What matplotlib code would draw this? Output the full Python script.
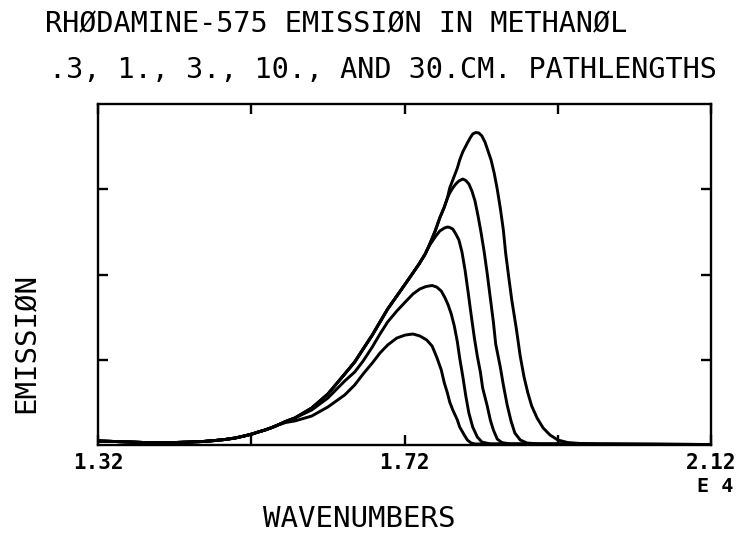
import matplotlib
matplotlib.use("Agg")
import matplotlib.pyplot as plt
from matplotlib.ticker import FixedLocator, NullFormatter

# wavenumber axis in units of 1E4 cm-1, emission in arbitrary units
# low-level part common to all five curves
base_x = [1.320, 1.342, 1.362, 1.381, 1.401, 1.420, 1.440, 1.457, 1.473,
          1.486, 1.499, 1.511, 1.521, 1.529, 1.538, 1.547, 1.555]
base_y = [0.047, 0.041, 0.035, 0.029, 0.029, 0.029, 0.035, 0.041, 0.053,
          0.065, 0.082, 0.106, 0.129, 0.152, 0.176, 0.205, 0.235]

# rising edge shared by the three tallest curves
upper_x = [1.565, 1.577, 1.599, 1.620, 1.642, 1.655, 1.666, 1.678, 1.688,
           1.698, 1.710, 1.721, 1.731, 1.739, 1.747]
upper_y = [0.276, 0.317, 0.434, 0.598, 0.833, 0.974, 1.126, 1.290, 1.443,
           1.595, 1.748, 1.889, 2.018, 2.123, 2.240]

# shared by the two tallest curves
top_x = [1.753, 1.760, 1.766, 1.772, 1.776]
top_y = [2.358, 2.510, 2.663, 2.792, 2.897]

# 0.3 cm (tallest)
c1_x = [1.779, 1.783, 1.789, 1.792, 1.796, 1.802, 1.806, 1.809, 1.813, 1.817,
        1.821, 1.825, 1.829, 1.833, 1.837, 1.841, 1.845, 1.849, 1.852, 1.856,
        1.860, 1.866, 1.871, 1.876, 1.881, 1.886, 1.893, 1.901, 1.910, 1.920,
        1.933, 1.949, 1.975, 2.120]
c1_y = [3.015, 3.108, 3.249, 3.343, 3.437, 3.542, 3.607, 3.648, 3.666, 3.660,
        3.625, 3.554, 3.449, 3.343, 3.191, 3.003, 2.780, 2.522, 2.252, 1.971,
        1.701, 1.361, 1.044, 0.798, 0.610, 0.457, 0.317, 0.199, 0.117, 0.059,
        0.029, 0.018, 0.012, 0.006]

c2_x = [1.779, 1.783, 1.787, 1.791, 1.796, 1.800, 1.804, 1.808, 1.812, 1.816,
        1.820, 1.824, 1.828, 1.832, 1.836, 1.839, 1.845, 1.849, 1.854, 1.859,
        1.864, 1.871, 1.880, 1.897, 2.120]
c2_y = [2.956, 3.015, 3.062, 3.097, 3.120, 3.103, 3.062, 2.979, 2.862, 2.686,
        2.487, 2.264, 2.006, 1.724, 1.443, 1.185, 0.915, 0.704, 0.469, 0.282,
        0.141, 0.059, 0.023, 0.012, 0.006]

c3_x = [1.753, 1.760, 1.766, 1.772, 1.776, 1.779, 1.783, 1.787, 1.791, 1.795,
        1.799, 1.803, 1.807, 1.811, 1.815, 1.819, 1.822, 1.828, 1.832, 1.836,
        1.841, 1.847, 1.858, 2.120]
c3_y = [2.346, 2.440, 2.510, 2.545, 2.557, 2.552, 2.533, 2.475, 2.405, 2.264,
        2.053, 1.795, 1.525, 1.267, 1.044, 0.856, 0.669, 0.457, 0.293, 0.176,
        0.070, 0.029, 0.012, 0.006]

c4_x = [1.565, 1.577, 1.599, 1.620, 1.642, 1.655, 1.666, 1.678, 1.688, 1.698,
        1.710, 1.721, 1.731, 1.740, 1.748, 1.756, 1.762, 1.768, 1.773, 1.777,
        1.781, 1.785, 1.789, 1.792, 1.796, 1.800, 1.804, 1.809, 1.815, 1.821,
        1.832, 2.120]
c4_y = [0.276, 0.317, 0.411, 0.551, 0.751, 0.856, 0.985, 1.150, 1.302, 1.443,
        1.572, 1.677, 1.771, 1.830, 1.859, 1.871, 1.853, 1.806, 1.724, 1.642,
        1.537, 1.396, 1.208, 1.021, 0.809, 0.575, 0.375, 0.211, 0.094, 0.035,
        0.012, 0.006]

# 30 cm (lowest)
c5_x = [1.565, 1.577, 1.599, 1.620, 1.642, 1.655, 1.666, 1.678, 1.688, 1.698,
        1.710, 1.721, 1.731, 1.740, 1.749, 1.756, 1.762, 1.768, 1.772, 1.776,
        1.779, 1.783, 1.789, 1.792, 1.798, 1.802, 1.807, 1.812, 2.120]
c5_y = [0.264, 0.282, 0.340, 0.446, 0.587, 0.704, 0.833, 0.962, 1.079, 1.173,
        1.255, 1.290, 1.302, 1.279, 1.232, 1.161, 1.032, 0.880, 0.727, 0.610,
        0.504, 0.411, 0.293, 0.211, 0.117, 0.059, 0.023, 0.012, 0.006]

x_ticks = [1.32, 1.72, 2.12]
x_tick_labels = ["1.32", "1.72", "2.12"]
x_minor = [1.52, 1.92]
y_ticks = [1, 2, 3]

curves = [
    (base_x + upper_x + top_x + c1_x, base_y + upper_y + top_y + c1_y),
    (base_x + upper_x + top_x + c2_x, base_y + upper_y + top_y + c2_y),
    (base_x + upper_x + c3_x, base_y + upper_y + c3_y),
    (base_x + c4_x, base_y + c4_y),
    (base_x + c5_x, base_y + c5_y),
]

W, H = 737, 534
mono = "DejaVu Sans Mono"

fig = plt.figure(figsize=(W / 100, H / 100), dpi=100)
ax = fig.add_axes([98 / W, 1 - 445 / H, (711 - 98) / W, (445 - 104) / H])

for xs, ys in curves:
    ax.plot(xs, ys, color="black", linewidth=2.1,
            solid_joinstyle="round", solid_capstyle="round")

ax.set_xlim(1.32, 2.12)
ax.set_ylim(0, 4)
for sp in ax.spines.values():
    sp.set_linewidth(1.7)

ax.xaxis.set_major_locator(FixedLocator(x_ticks))
ax.set_xticklabels(x_tick_labels, fontsize=15, family=mono, fontweight="bold")
ax.xaxis.set_minor_locator(FixedLocator(x_minor))
ax.xaxis.set_minor_formatter(NullFormatter())
ax.yaxis.set_major_locator(FixedLocator(y_ticks))
ax.set_yticklabels([])
ax.tick_params(which="both", direction="in", length=7, width=1.7,
               top=True, right=True)
ax.tick_params(axis="x", which="major", pad=6)

fig.text(733 / W, 1 - 486 / H, "E 4", ha="right", va="center",
         fontsize=14.5, family=mono, fontweight="bold")

fig.text(336 / W, 1 - 24 / H, "RHØDAMINE-575 EMISSIØN IN METHANØL",
         ha="center", va="center", fontsize=20.5, family=mono)
fig.text(383 / W, 1 - 70 / H, ".3, 1., 3., 10., AND 30.CM. PATHLENGTHS",
         ha="center", va="center", fontsize=20.5, family=mono)
fig.text(359 / W, 1 - 519 / H, "WAVENUMBERS", ha="center", va="center",
         fontsize=21, family=mono)
fig.text(27 / W, 1 - 343 / H, "EMISSIØN", ha="center", va="center",
         rotation=90, fontsize=21, family=mono)

fig.savefig("out.png", dpi=100)
